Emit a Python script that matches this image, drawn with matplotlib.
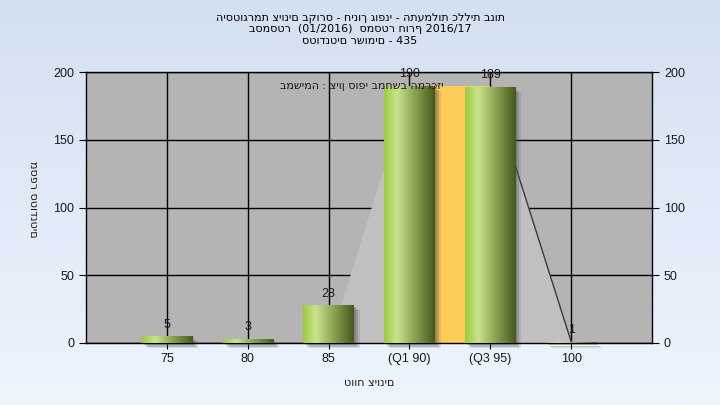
import matplotlib
matplotlib.use("Agg")
import matplotlib.pyplot as plt
import matplotlib.transforms as mtransforms
import numpy as np
from matplotlib.colors import LinearSegmentedColormap
from matplotlib.patches import Rectangle

plt.rcParams["font.family"] = ["Liberation Sans", "DejaVu Sans"]
HEB = ["DejaVu Sans"]

# data
categories = ["75", "80", "85", "(Q1 90)", "(Q3 95)", "100"]
counts = [5, 3, 28, 190, 189, 1]
curve = [0, 0, 0, 190, 189, 1]
band_from, band_to, band_height = 3, 4, 190
yticks = [0, 50, 100, 150, 200]

title_lines = [
    "היסטוגרמת ציונים בקורס - חינוך גופני - התעמלות כללית בנות",
    "בסמסטר  (01/2016)  סמסטר חורף 2016/17",
    "סטודנטים רשומים - 435",
]
note = "במשימה : ציון סופי במחשב המרכזי"
xlabel = "טווח ציונים"
ylabel = "מספר סטודנטים"

fig = plt.figure(figsize=(7.2, 4.05), dpi=100)

# background gradient
bg = fig.add_axes([0, 0, 1, 1], zorder=-10)
bg_cmap = LinearSegmentedColormap.from_list("bg", ["#d3e0f1", "#eef5fd"])
bg.imshow(np.linspace(0, 1, 256).reshape(-1, 1), cmap=bg_cmap, aspect="auto",
          extent=[0, 1, 0, 1])
bg.set_axis_off()

ax = fig.add_axes([0.1194, 0.1531, 0.7862, 0.6691])
ax.set_facecolor("#b4b4b4")
ax.set_axisbelow(True)
ax.grid(True, color="black", lw=1)

x = np.arange(len(categories))
width = 0.62

# light area under the curve
ax.fill_between(x, curve, color="#c0c0c0", zorder=1, lw=0)
ax.plot(x[4:], curve[4:], color="#3a3a3a", lw=1, zorder=1.2)

# quartile band
ax.add_patch(Rectangle((band_from, 0), band_to - band_from, band_height,
                       facecolor="#ffcc5a", edgecolor="none", zorder=2))

# soft shadows
for dx, dy, a in [(2, -2, 0.3), (4, -4, 0.25), (6, -5, 0.15)]:
    off = mtransforms.ScaledTranslation(dx / 100, dy / 100, fig.dpi_scale_trans)
    for xi, v in zip(x, counts):
        ax.add_patch(Rectangle((xi - width / 2, 0), width, v,
                               transform=ax.transData + off,
                               facecolor="#505050", alpha=a, edgecolor="none",
                               zorder=2.5, clip_on=False))

bar_cmap = LinearSegmentedColormap.from_list(
    "bar", [(0, "#9ccb3c"), (0.25, "#c9e38e"), (0.55, "#93ad5a"), (1, "#46591c")])
grad = np.linspace(0, 1, 128).reshape(1, -1)
bars = ax.bar(x, counts, width=width, color="none", edgecolor="none", zorder=3)
for b in bars:
    im = ax.imshow(grad, cmap=bar_cmap, aspect="auto", zorder=3,
                   extent=[b.get_x(), b.get_x() + b.get_width(), 0, b.get_height()])
    im.set_clip_path(b)

for xi, v in zip(x, counts):
    ax.annotate(str(v), (xi, v), xytext=(0, 4), textcoords="offset points",
                ha="center", va="bottom", fontsize=9, color="#1a1a1a", zorder=5)

ax.text(3.42, 190, note, ha="right", va="center", fontsize=8, color="#1a1a1a",
        zorder=4, family=HEB)

ax.set_xlim(-1, 6)
ax.set_ylim(0, 200)
ax.set_xticks(x)
ax.set_xticklabels(categories)
ax.set_yticks(yticks)
ax.tick_params(axis="both", direction="out", labelsize=9, colors="black",
               labelcolor="#1a1a1a")
ax.tick_params(axis="y", length=5, right=True, labelright=True)
ax.tick_params(axis="x", length=4)
for s in ax.spines.values():
    s.set_color("black")
    s.set_linewidth(1)

ax.set_xlabel(xlabel, fontsize=8, color="#2a1a10", family=HEB)
ax.xaxis.set_label_coords(0.5, -0.128)
ax.set_ylabel(ylabel, fontsize=8, color="#2a1a10", rotation=-90, va="center",
              ha="center", family=HEB)
ax.yaxis.set_label_coords(-0.094, 0.53)

for i, line in enumerate(title_lines):
    fig.text(0.5, 1 - (18 + 11.5 * i) / 405, line, ha="center", va="center",
             fontsize=8, color="black", family=HEB)

fig.savefig("out.png", dpi=100)
